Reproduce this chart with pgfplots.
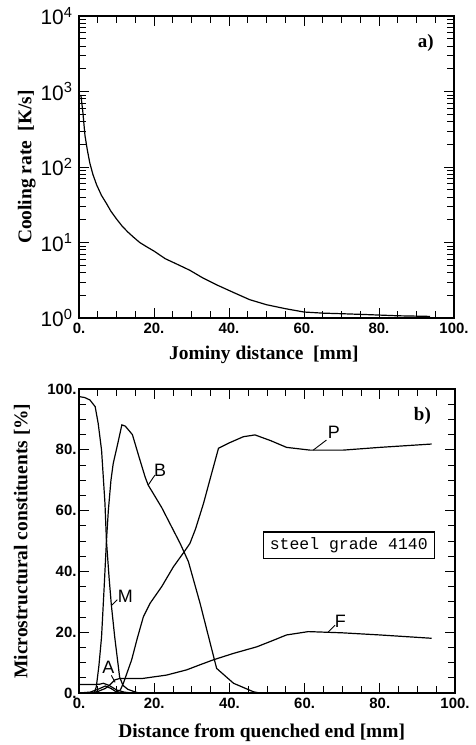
\documentclass[border=0pt]{standalone}
\usepackage{fontspec}
\setmainfont{Liberation Serif}
\newfontfamily\sansf{Liberation Sans}
\newfontfamily\monof{Liberation Mono}
\usepackage{pgfplots}
\pgfplotsset{compat=1.18}
\pgfplotsset{
  common/.style={
    scale only axis,
    xmin=0, xmax=100,
    xtick={0,20,...,100},
    minor xtick={5,10,...,95},
    xticklabels={0.,20.,40.,60.,80.,100.},
    xtick pos=both, ytick pos=both,
    tick align=inside,
    major tick length=10bp, minor tick length=7bp,
    axis line style={line width=1.6bp},
    every tick/.style={line width=0.9bp, black},
    xticklabel style={font=\sansf\bfseries\fontsize{15}{15}\selectfont, yshift=-2bp},
    label style={font=\bfseries\fontsize{19.5}{20}\selectfont},
  },
  curve/.style={black, line width=1.2bp, no marks},
}
\begin{document}
\begin{tikzpicture}
\path[use as bounding box] (0bp,0bp) rectangle (476bp,-745bp);

\begin{axis}[common,
  at={(79bp,-16bp)}, anchor=north west,
  width=375bp, height=302bp,
  ymode=log, ymin=1, ymax=10000,
  ytick={1,10,100,1000,10000},
  minor ytick={2,3,4,5,6,7,8,9,20,30,40,50,60,70,80,90,200,300,400,500,600,700,800,900,2000,3000,4000,5000,6000,7000,8000,9000},
  yticklabels={10\textsuperscript{0},10\textsuperscript{1},10\textsuperscript{2},10\textsuperscript{3},10\textsuperscript{4}},
  yticklabel style={font=\sansf\fontsize{21}{21}\selectfont, xshift=-3bp},
  xlabel={Jominy distance~~[mm]},
  ylabel={Cooling rate~~[K/s]},
  xlabel style={at={(axis description cs:0.493,-0.123)}, anchor=center},
  ylabel style={at={(axis description cs:-0.139,0.5)}, anchor=center},
]
\addplot[curve] coordinates {
(0.5,900) (1.0,550) (1.6,260) (2.2,170) (2.9,112) (3.7,80) (4.7,58) (6,42)
(7.3,33) (8.5,26) (10,20.5) (11.5,16.5) (13,13.8) (14.5,11.8) (16.2,10)
(18,8.8) (20,7.7) (23,6.1) (26,5.2) (29.5,4.3) (33,3.4) (36.7,2.75)
(41,2.2) (45.5,1.75) (50,1.5) (55,1.33) (60,1.2) (65,1.16) (70,1.14)
(76.7,1.11) (85,1.07) (93.6,1.05)
};
\node[anchor=north east, font=\bfseries\fontsize{19}{19}\selectfont] at (rel axis cs:0.955,0.95) {a)};
\end{axis}

\begin{axis}[common,
  at={(79bp,-389bp)}, anchor=north west,
  width=376bp, height=304bp,
  ymin=0, ymax=100,
  ytick={0,20,...,100},
  minor ytick={5,10,...,95},
  yticklabels={0.,20.,40.,60.,80.,100.},
  yticklabel style={font=\sansf\bfseries\fontsize{15}{15}\selectfont, xshift=1bp},
  xlabel={Distance from quenched end [mm]},
  ylabel={Microstructural constituents [\%]},
  xlabel style={at={(axis description cs:0.486,-0.132)}, anchor=center},
  ylabel style={at={(axis description cs:-0.152,0.5)}, anchor=center},
]
% M
\addplot[curve] coordinates {
(0,97.5) (1.5,97.2) (2.9,96.4) (4.3,94.2) (5.1,88.7) (6.0,79.9) (6.9,62.5)
(7.3,50) (8,38) (8.6,29) (9.5,18.4) (10.8,5.3) (11.7,2.5) (13,1.2) (15,0.3) (16,0)
};
% B
\addplot[curve] coordinates {
(4,0) (4.6,2) (5.3,9) (6,18.5) (6.7,35) (7.3,50) (7.8,60) (8.5,70) (9.1,75.5)
(10.3,82) (11.4,88.2) (12.3,87.8) (14.2,85) (16,77.5) (17.6,71) (18.4,68.4)
(22,61) (26.9,49.2) (29.1,43.2) (32.2,29.5) (36.6,8.1) (41.1,3.2) (46.4,0.4) (48,0)
};
% P
\addplot[curve] coordinates {
(0,0) (3,0.3) (5,1.2) (7,2.3) (8.5,1.5) (10,0.3) (11,1) (11.8,3.2) (14,10.9)
(15.5,18) (17.1,25) (18.9,29.5) (22,35) (25.1,41.5) (28,46.5) (29.5,49.2)
(31,54) (33.1,62.3) (35,71) (37.1,80.5) (40,82.3) (43.7,84.3) (46.8,84.9)
(51,83) (55.2,80.8) (61.4,79.9) (70.3,79.9) (80,80.8) (93.8,81.9)
};
% F
\addplot[curve] coordinates {
(3,0) (5,0.5) (7,1.5) (8.5,3) (9.5,4.3) (10.9,4.8) (17,4.8) (23.3,5.9)
(28.6,7.6) (32,9.2) (35.7,10.9) (41,13) (47.3,15.2) (51,17) (55.2,19.1)
(61,20.2) (70,19.8) (80,19.1) (93.8,18)
};
% A
\addplot[curve] coordinates {
(0,2.8) (4,2.8) (5.5,2.9) (6.5,3.2) (8,2.5) (10,1) (12,0.3) (14,0)
};
% labels
\begin{scope}[font=\sansf\fontsize{18}{18}\selectfont]
\draw[line width=0.9bp] (axis cs:62.3,79.9) -- (axis cs:65.8,83.2);
\node at (axis cs:67.8,85.6) {P};
\draw[line width=0.9bp] (axis cs:18.4,68.4) -- (axis cs:20.2,71.7);
\node at (axis cs:21.6,73.4) {B};
\draw[line width=0.9bp] (axis cs:8.7,28.9) -- (axis cs:10.2,30.7);
\node at (axis cs:12.3,31.8) {M};
\draw[line width=0.9bp] (axis cs:66.3,20.1) -- (axis cs:68.1,22.3);
\node at (axis cs:69.5,23.6) {F};
\draw[line width=0.9bp] (axis cs:8.6,5.8) -- (axis cs:9.6,3.5);
\node at (axis cs:7.8,8.4) {A};
\end{scope}
\draw[line width=1.3bp] (axis cs:49,44.3) rectangle (axis cs:94.5,53);
\node[font=\monof\fontsize{16.5}{16.5}\selectfont] at (axis cs:71.75,48.65) {steel grade 4140};
\node[anchor=north east, font=\bfseries\fontsize{19}{19}\selectfont] at (rel axis cs:0.945,0.95) {b)};
\end{axis}
\end{tikzpicture}
\end{document}
